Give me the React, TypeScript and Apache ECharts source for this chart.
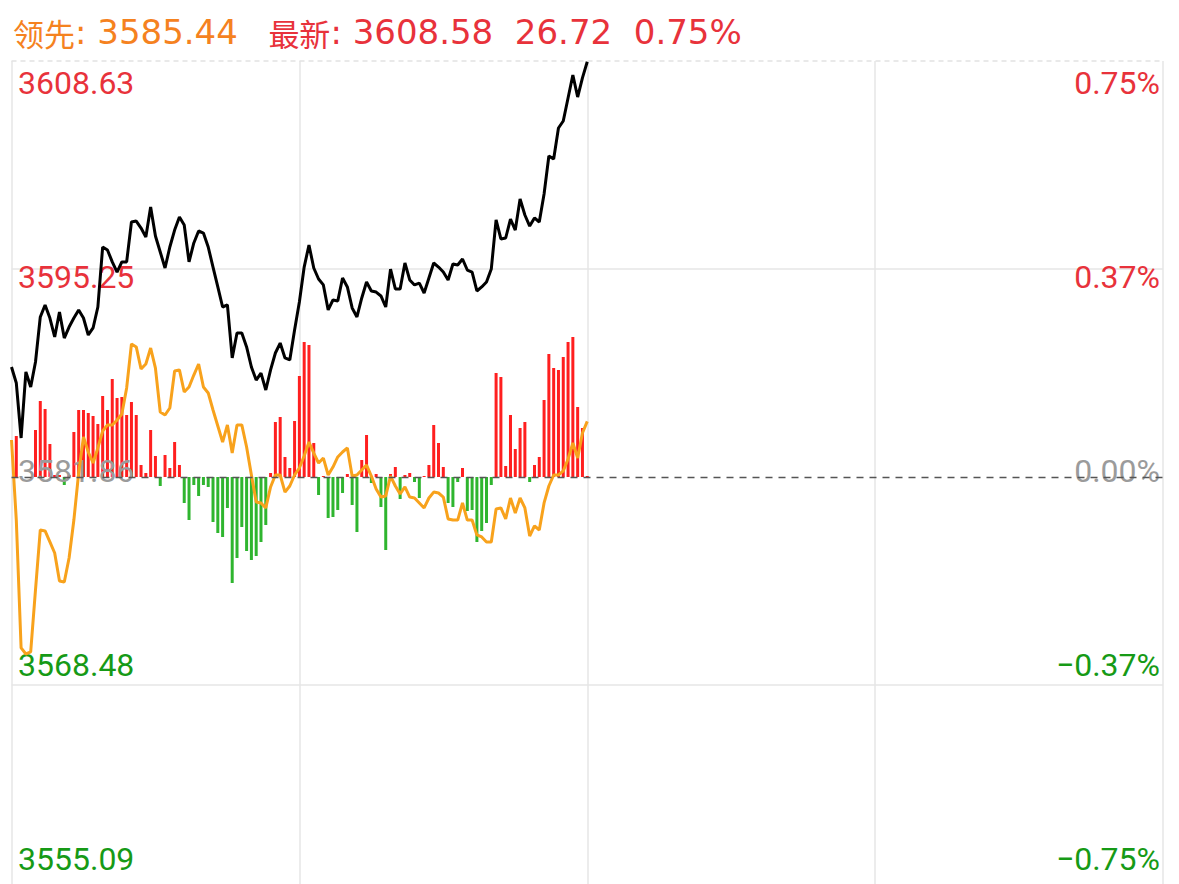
import React, { useEffect, useRef } from "react";
import * as echarts from "echarts";

// ---- data ----
const basePrice = 3581.86;
const axisMin = 3555.09;
const axisMax = 3608.63;

const leftLabels = ["3555.09", "3568.48", "3581.86", "3595.25", "3608.63"];
const rightLabels = ["−0.75%", "−0.37%", "0.00%", "0.37%", "0.75%"];

const priceLine = [
  3588.94, 3587.91, 3584.37, 3588.62, 3587.65, 3589.26, 3592.16, 3592.93, 3592.09, 3590.87,
  3592.48, 3590.80, 3591.51, 3592.09, 3592.61, 3592.09, 3591.00, 3591.45, 3592.80, 3596.66,
  3596.47, 3595.70, 3595.05, 3595.70, 3595.70, 3598.27, 3598.33, 3597.88, 3597.30, 3599.23,
  3597.37, 3596.34, 3595.31, 3596.66, 3597.75, 3598.59, 3598.08, 3595.70, 3596.92, 3597.69,
  3597.56, 3596.66, 3595.37, 3594.09, 3592.80, 3592.93, 3589.52, 3591.13, 3591.13, 3590.23,
  3588.94, 3588.10, 3588.55, 3587.46, 3588.75, 3589.84, 3590.48, 3589.52, 3589.39, 3591.32,
  3593.12, 3595.37, 3596.79, 3595.31, 3594.60, 3594.22, 3592.61, 3593.25, 3593.19, 3594.67,
  3594.09, 3592.74, 3592.16, 3593.38, 3594.41, 3593.83, 3593.76, 3593.51, 3592.80, 3595.24,
  3593.96, 3593.96, 3595.63, 3594.54, 3594.22, 3594.34, 3593.70, 3594.67, 3595.63, 3595.37,
  3595.05, 3594.54, 3595.57, 3595.50, 3595.89, 3595.18, 3595.05, 3593.83, 3594.09, 3594.41,
  3595.24, 3598.40, 3597.18, 3597.24, 3598.46, 3597.75, 3599.75, 3598.72, 3598.01, 3598.53,
  3598.27, 3600.07, 3602.52, 3602.32, 3604.32, 3604.77, 3606.25, 3607.73, 3606.31, 3607.54,
  3608.58,
];

const leadLine = [
  3584.24, 3579.09, 3570.86, 3570.47, 3570.60, 3574.59, 3578.45, 3578.39, 3577.68, 3576.97,
  3575.17, 3575.10, 3576.65, 3579.09, 3582.12, 3584.43, 3583.47, 3582.76, 3583.73, 3584.82,
  3585.21, 3585.21, 3585.53, 3585.91, 3587.59, 3590.42, 3590.23, 3588.81, 3589.13, 3590.16,
  3588.87, 3586.04, 3585.85, 3586.30, 3588.68, 3588.75, 3587.33, 3587.65, 3588.42, 3589.13,
  3587.65, 3587.27, 3586.17, 3585.14, 3584.11, 3585.21, 3583.40, 3585.21, 3585.21, 3583.79,
  3581.99, 3580.25, 3580.19, 3579.87, 3581.22, 3581.99, 3581.99, 3580.89, 3581.28, 3581.99,
  3582.44, 3583.21, 3584.11, 3583.40, 3582.76, 3583.08, 3581.99, 3582.50, 3583.15, 3583.47,
  3583.73, 3581.92, 3581.99, 3582.31, 3582.63, 3581.92, 3581.09, 3580.57, 3580.64, 3581.92,
  3581.28, 3580.77, 3581.22, 3580.57, 3580.51, 3580.19, 3579.87, 3580.51, 3580.89, 3580.83,
  3580.57, 3579.16, 3579.09, 3579.09, 3580.19, 3579.09, 3579.09, 3578.13, 3578.00, 3577.68,
  3577.68, 3579.80, 3579.87, 3579.16, 3580.51, 3579.54, 3580.51, 3579.87, 3578.06, 3578.71,
  3578.45, 3580.19, 3581.28, 3581.99, 3581.99, 3582.25, 3583.02, 3584.05, 3583.08, 3584.69,
  3585.44,
];

const flowBars = [
  0, 41, 0, 0, 0, 47, 76, 68, 33, 2,
  2, -8, 2, 45, 67, 67, 64, 61, 53, 81,
  67, 98, 79, 80, 62, 75, 62, 12, 4, 47,
  21, -9, 22, 9, 35, 12, -26, -43, -8, -19,
  -8, -10, -45, -56, -60, -31, -106, -81, -50, -74,
  -83, -79, -65, -48, 4, 55, 60, 20, 9, 56,
  101, 135, 132, 34, -18, 1, -41, -40, -33, -16,
  3, -28, -55, 17, 42, -6, 3, -30, -73, 3,
  10, -22, 2, 4, -5, -21, 1, 12, 52, 34,
  10, -26, -30, -5, 9, -34, -33, -65, -54, -46,
  -8, 104, 100, 11, 62, 28, 49, 55, -5, 12,
  20, 77, 123, 109, 107, 120, 135, 140, 70, 49,
  1,
];

const barRange = 416;

// trading minutes: 09:30-11:30, 13:01-15:00
const pad = (n: number) => (n < 10 ? "0" + n : "" + n);
const times: string[] = [];
for (let m = 0; m <= 120; m++) {
  const t = 9 * 60 + 30 + m;
  times.push(pad(Math.floor(t / 60)) + ":" + pad(t % 60));
}
for (let m = 1; m <= 120; m++) {
  const t = 13 * 60 + m;
  times.push(pad(Math.floor(t / 60)) + ":" + pad(t % 60));
}

const RED = "#e8323b";
const GREEN = "#169a16";
const GRAY = "#9b9b9b";
const ORANGE_TEXT = "#f5821f";
const BAR_RED = "#ff1f1f";
const BAR_GREEN = "#2fb52f";
const LINE_ORANGE = "#f8a21c";
const GRID = "#e6e6e6";
const TITLE_FONT = "DejaVu Sans";

export default function App() {
  const ref = useRef<HTMLDivElement>(null);

  useEffect(() => {
    if (!ref.current) return;
    const chart = echarts.init(ref.current, undefined, { renderer: "svg" });

    const last = priceLine[priceLine.length - 1];
    const lead = leadLine[leadLine.length - 1];
    const chg = last - basePrice;
    const pct = (chg / basePrice) * 100;

    const labelColor = (idx: number) => (idx > 2 ? RED : idx < 2 ? GREEN : GRAY);

    chart.setOption({
      animation: false,
      backgroundColor: "#ffffff",
      title: {
        left: 8,
        top: 10,
        text:
          "{oc|领先}{o|: " + lead.toFixed(2) + "}   {rc|最新}{r|: " + last.toFixed(2) + "  " +
          chg.toFixed(2) + "  " + pct.toFixed(2) + "%}",
        textStyle: {
          fontWeight: "normal",
          fontFamily: TITLE_FONT,
          fontSize: 32,
          rich: {
            oc: { color: ORANGE_TEXT, fontSize: 31, fontWeight: "normal", fontFamily: "Noto Sans CJK SC" },
            o: { color: ORANGE_TEXT, fontSize: 34, fontWeight: "normal", fontFamily: TITLE_FONT },
            rc: { color: RED, fontSize: 31, fontWeight: "normal", fontFamily: "Noto Sans CJK SC" },
            r: { color: RED, fontSize: 34, fontWeight: "normal", fontFamily: TITLE_FONT },
          },
        },
      },
      grid: [
        { left: 11.5, right: 16, top: 61, height: 832 },
        { left: 11.5, right: 16, top: 83, height: 776 },
      ],
      xAxis: [
        {
          type: "category",
          gridIndex: 0,
          data: times,
          boundaryGap: false,
          axisLine: { show: false },
          axisTick: { show: false },
          axisLabel: { show: false },
          splitLine: {
            show: true,
            interval: (index: number) => index % 60 === 0,
            lineStyle: { color: GRID, width: 1.5 },
          },
        },
        { type: "value", gridIndex: 1, min: 0, max: 1, show: false },
      ],
      yAxis: [
        {
          type: "value",
          gridIndex: 0,
          min: axisMin,
          max: axisMax,
          axisLine: { show: false },
          axisTick: { show: false },
          axisLabel: { show: false },
          splitLine: { show: false },
        },
        {
          type: "value",
          gridIndex: 0,
          min: -barRange,
          max: barRange,
          show: false,
          splitLine: { show: false },
        },
        {
          type: "value",
          gridIndex: 0,
          min: -2,
          max: 2,
          interval: 1,
          axisLine: { show: false },
          axisTick: { show: false },
          axisLabel: { show: false },
          splitLine: {
            show: true,
            lineStyle: {
              color: [GRID, GRID, "rgba(0,0,0,0)", GRID, "rgba(0,0,0,0)"],
              width: 1.5,
            },
          },
        },
        {
          type: "value",
          gridIndex: 1,
          position: "left",
          min: -2,
          max: 2,
          interval: 1,
          z: 3,
          axisLine: { show: false },
          axisTick: { show: false },
          splitLine: { show: false },
          axisLabel: {
            inside: true,
            margin: 6.5,
            fontSize: 32,
            fontFamily: "Roboto",
            formatter: (v: number) => leftLabels[Math.round(v) + 2] ?? "",
            color: (v: number) => labelColor(Math.round(v) + 2),
          },
        },
        {
          type: "value",
          gridIndex: 1,
          position: "right",
          min: -2,
          max: 2,
          interval: 1,
          z: 3,
          axisLine: { show: false },
          axisTick: { show: false },
          splitLine: { show: false },
          axisLabel: {
            inside: true,
            margin: 3,
            fontSize: 32,
            fontFamily: "Roboto",
            formatter: (v: number) => rightLabels[Math.round(v) + 2] ?? "",
            color: (v: number) => labelColor(Math.round(v) + 2),
          },
        },
      ],
      series: [
        {
          name: "flow",
          type: "bar",
          xAxisIndex: 0,
          yAxisIndex: 1,
          barWidth: 3,
          z: 1,
          data: flowBars,
          itemStyle: {
            color: (p: any) => (p.value >= 0 ? BAR_RED : BAR_GREEN),
          },
        },
        {
          name: "领先",
          type: "line",
          xAxisIndex: 0,
          yAxisIndex: 0,
          data: leadLine,
          showSymbol: false,
          z: 4,
          lineStyle: { color: LINE_ORANGE, width: 3 },
        },
        {
          name: "最新",
          type: "line",
          xAxisIndex: 0,
          yAxisIndex: 0,
          data: priceLine,
          showSymbol: false,
          z: 5,
          lineStyle: { color: "#000000", width: 3 },
          markLine: {
            silent: true,
            symbol: ["none", "none"],
            label: { show: false },
            data: [
              { yAxis: basePrice, lineStyle: { type: [7, 6], color: "#555555", width: 1.3 } },
              { yAxis: axisMax, lineStyle: { type: [5, 4], color: "#e2e2e2", width: 1.5 } },
            ],
          },
        },
      ],
    });

    return () => chart.dispose();
  }, []);

  return (
    <div
      ref={ref}
      style={{ position: "fixed", left: 0, top: 0, width: 1179, height: 900, background: "#fff" }}
    />
  );
}
